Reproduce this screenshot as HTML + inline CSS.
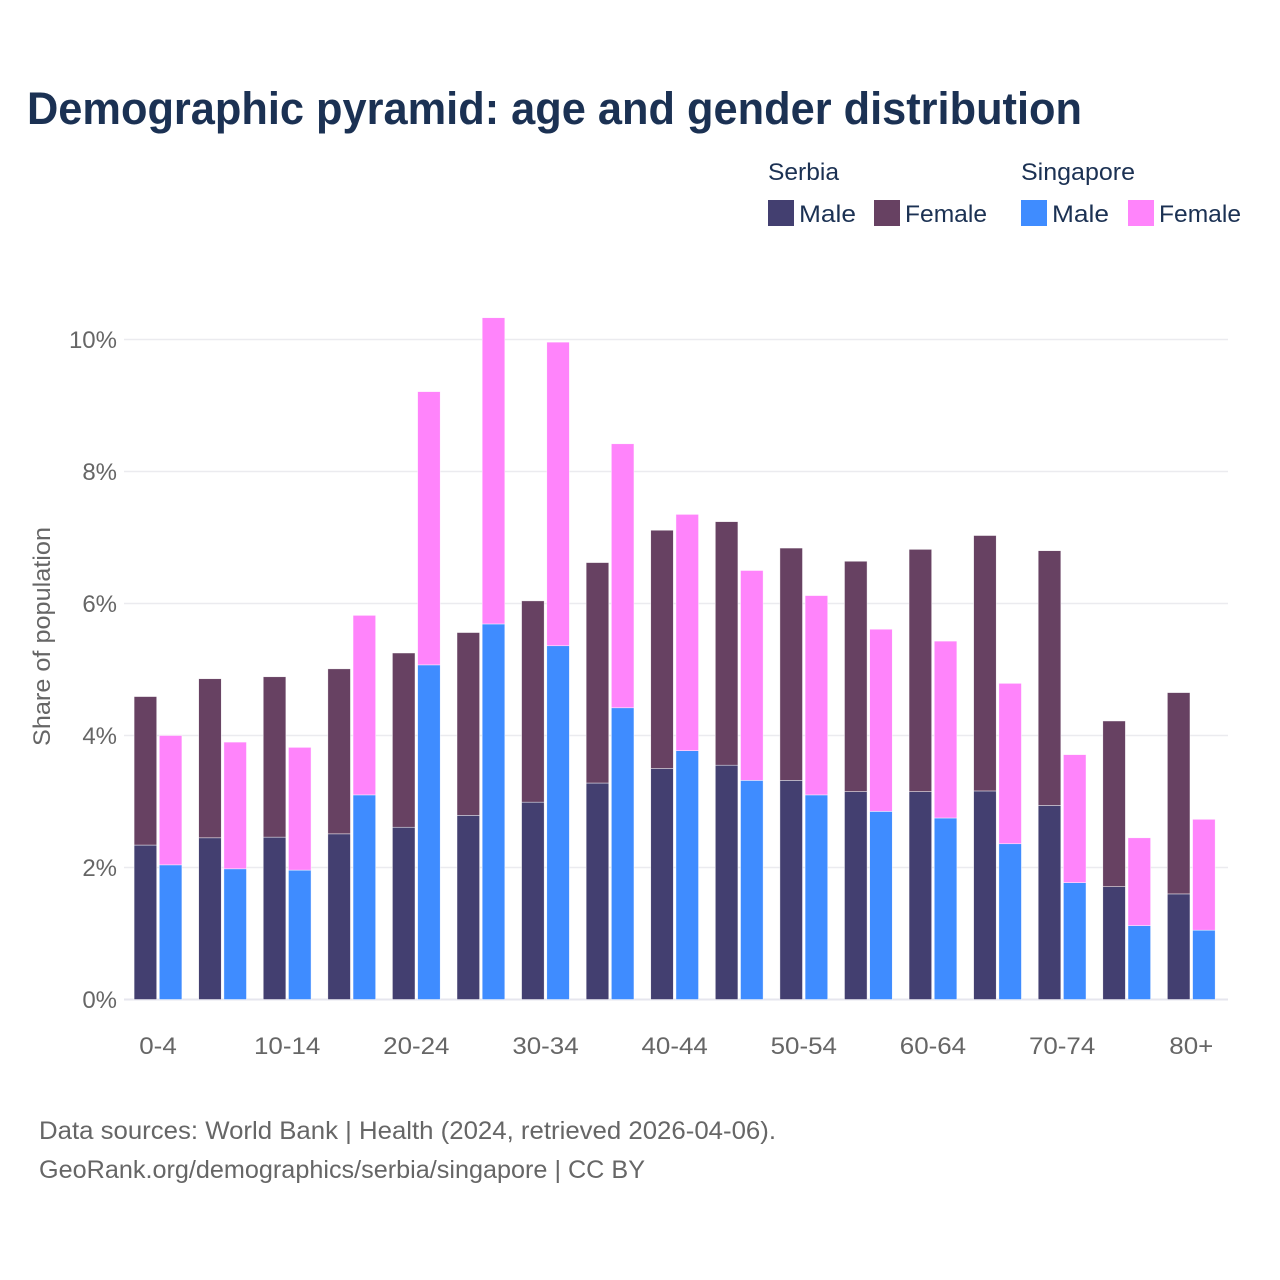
<!DOCTYPE html>
<html lang="en">
<head>
<meta charset="utf-8">
<title>Demographic pyramid: age and gender distribution</title>
<style>
  html, body { margin: 0; padding: 0; background: #ffffff; }
  svg { display: block; font-family: "Liberation Sans", sans-serif; }
  .legend-text { font-size: 24px; fill: #1b3153; }
  .tick-text { font-size: 24px; fill: #666666; }
  .foot-text { font-size: 25px; fill: #666666; }
</style>
</head>
<body>
<svg id="chart" xmlns="http://www.w3.org/2000/svg" width="1280" height="1280" viewBox="0 0 1280 1280">
  <rect x="0" y="0" width="1280" height="1280" fill="#ffffff"/>
  <text x="27" y="124" font-size="45" font-weight="700" fill="#1b3153" textLength="1055" lengthAdjust="spacingAndGlyphs">Demographic pyramid: age and gender distribution</text>

  <g>
    <text class="legend-text" x="768" y="180" textLength="71" lengthAdjust="spacingAndGlyphs">Serbia</text>
    <text class="legend-text" x="1021" y="180" textLength="114" lengthAdjust="spacingAndGlyphs">Singapore</text>
    <rect x="768" y="200" width="26" height="26" fill="#433f70"/>
    <text class="legend-text" x="799" y="222" textLength="57" lengthAdjust="spacingAndGlyphs">Male</text>
    <rect x="874" y="200" width="26" height="26" fill="#674162"/>
    <text class="legend-text" x="905" y="222" textLength="82" lengthAdjust="spacingAndGlyphs">Female</text>
    <rect x="1021" y="200" width="26" height="26" fill="#3f8cff"/>
    <text class="legend-text" x="1052" y="222" textLength="57" lengthAdjust="spacingAndGlyphs">Male</text>
    <rect x="1128" y="200" width="26" height="26" fill="#ff84fb"/>
    <text class="legend-text" x="1159" y="222" textLength="82" lengthAdjust="spacingAndGlyphs">Female</text>
  </g>

  <g id="grid"></g>
  <g id="y-labels"></g>
  <g id="bars"></g>
  <g id="x-labels"></g>

  <text class="tick-text" transform="translate(50,746) rotate(-90)" x="0" y="0" textLength="219" lengthAdjust="spacingAndGlyphs">Share of population</text>

  <text class="foot-text" x="39" y="1139" textLength="737" lengthAdjust="spacingAndGlyphs">Data sources: World Bank | Health (2024, retrieved 2026-04-06).</text>
  <text class="foot-text" x="39" y="1178" textLength="606" lengthAdjust="spacingAndGlyphs">GeoRank.org/demographics/serbia/singapore | CC BY</text>
</svg>

<script>
const categories = ["0-4","5-9","10-14","15-19","20-24","25-29","30-34","35-39","40-44","45-49","50-54","55-59","60-64","65-69","70-74","75-79","80+"];
const serbiaMale = [2.34,2.45,2.46,2.51,2.61,2.79,2.99,3.28,3.50,3.55,3.32,3.15,3.15,3.16,2.94,1.71,1.60];
const serbiaFemale = [2.25,2.41,2.43,2.50,2.64,2.77,3.05,3.34,3.61,3.69,3.52,3.49,3.67,3.87,3.86,2.51,3.05];
const singaporeMale = [2.04,1.98,1.96,3.10,5.07,5.69,5.36,4.42,3.77,3.32,3.10,2.85,2.75,2.36,1.77,1.12,1.05];
const singaporeFemale = [1.96,1.92,1.86,2.72,4.14,4.64,4.60,4.00,3.58,3.18,3.02,2.76,2.68,2.43,1.94,1.33,1.68];
const yTicks = [0,2,4,6,8,10];
const yTickLabels = ["0%","2%","4%","6%","8%","10%"];

const NS = "http://www.w3.org/2000/svg";
function yScale(v) { return 999.5 - v * 66; }
function bandCenter(i) { return 158 + i * 64.58; }
const BAR_W = 22.6;
const BAR_OFF = 1.3;

function make(tag, parent, attrs) {
  const el = document.createElementNS(NS, tag);
  for (const k in attrs) el.setAttribute(k, attrs[k]);
  parent.appendChild(el);
  return el;
}

const gridG = document.getElementById("grid");
const yG = document.getElementById("y-labels");
const xG = document.getElementById("x-labels");
const barsG = document.getElementById("bars");

yTicks.forEach(function (t, i) {
  const line = make("line", gridG, { x1: 124, x2: 1228, y1: yScale(t), y2: yScale(t), stroke: t === 0 ? "#e6e6ee" : "#ebebef", "stroke-width": t === 0 ? 2 : 1.5 });
  
  
  const label = make("text", yG, { x: 117, y: yScale(t) + 8.5, "text-anchor": "end", class: "tick-text" });
  label.textContent = yTickLabels[i];
  
  
});

function drawBar(parent, x, v0, v1, fill, name) {
  const top = yScale(v1), bottom = yScale(v0);
  const r = make("rect", parent, { x: x, y: top, width: BAR_W, height: bottom - top, fill: fill, stroke: "#ffffff", "stroke-opacity": 0.75, "stroke-width": 0.6 });
  
  
}

categories.forEach(function (c, i) {
  const cx = bandCenter(i);
  const xa = cx - BAR_OFF - BAR_W;
  const xb = cx + BAR_OFF;
  drawBar(barsG, xa, 0, serbiaMale[i], "#433f70", 'bar-serbia-male-' + c);
  drawBar(barsG, xa, serbiaMale[i], serbiaMale[i] + serbiaFemale[i], "#674162", 'bar-serbia-female-' + c);
  drawBar(barsG, xb, 0, singaporeMale[i], "#3f8cff", 'bar-singapore-male-' + c);
  drawBar(barsG, xb, singaporeMale[i], singaporeMale[i] + singaporeFemale[i], "#ff84fb", 'bar-singapore-female-' + c);
  if (i % 2 === 0) {
    const t = make("text", xG, { x: cx, y: 1054, "text-anchor": "middle", class: "tick-text" });
    t.textContent = c;
    
    
  }
});

document.querySelectorAll("#x-labels text").forEach(function (t) {
  const w = t.getComputedTextLength();
  t.setAttribute("textLength", (w * 1.08).toFixed(1));
  t.setAttribute("lengthAdjust", "spacingAndGlyphs");
});
</script>
</body>
</html>
